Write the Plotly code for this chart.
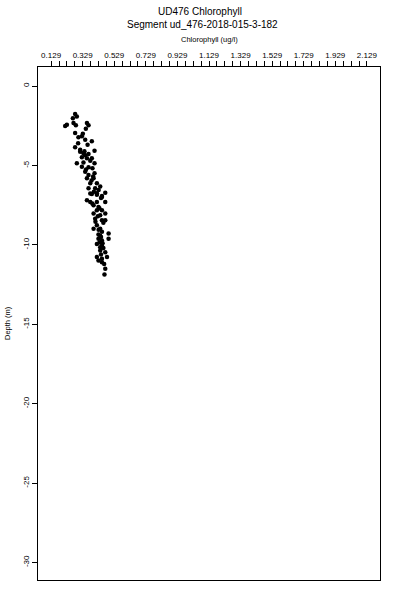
import plotly.graph_objects as go

chl = [0.281, 0.292, 0.229, 0.271, 0.286, 0.356, 0.366, 0.349, 0.281, 0.302, 0.324, 0.345, 0.387,
       0.281, 0.313, 0.340, 0.404, 0.267, 0.218,
       0.313, 0.334, 0.366, 0.324, 0.356, 0.387, 0.404, 0.292, 0.334, 0.324, 0.366, 0.391, 0.404,
       0.345, 0.366, 0.356, 0.398, 0.377, 0.419, 0.366, 0.408, 0.440, 0.472, 0.419, 0.387,
       0.377, 0.419, 0.451, 0.356, 0.377, 0.419, 0.472, 0.398, 0.429, 0.451, 0.419, 0.451, 0.398,
       0.440, 0.472, 0.408, 0.451, 0.472, 0.419, 0.440, 0.398, 0.451, 0.493, 0.429,
       0.440, 0.429, 0.451, 0.493, 0.419, 0.451, 0.440, 0.472, 0.419, 0.451, 0.483, 0.451, 0.429,
       0.472, 0.467,
       0.345, 0.377, 0.350, 0.395, 0.385, 0.430, 0.400, 0.445, 0.390, 0.435, 0.425, 0.460, 0.430,
       0.445, 0.435, 0.460, 0.445, 0.465, 0.300, 0.330, 0.360, 0.410, 0.455, 0.440]
depth = [-1.76, -1.91, -2.43, -2.33, -2.47, -2.33, -2.47, -2.69, -2.96, -3.23, -3.16, -3.38, -3.48,
         -3.86, -4.01, -4.11, -4.07, -2.03, -2.52,
         -4.13, -4.23, -4.28, -4.48, -4.55, -4.55, -4.86, -4.86, -4.82, -5.08, -5.11, -5.18, -5.49,
         -5.39, -5.60, -5.81, -5.81, -6.12, -6.12, -6.43, -6.43, -6.33, -6.71, -6.75, -6.79,
         -6.77, -6.84, -6.92, -7.19, -7.30, -7.30, -7.30, -7.50, -7.61, -6.98, -7.82, -7.82, -8.03,
         -8.13, -8.03, -8.35, -8.45, -8.45, -8.76, -8.98, -8.98, -9.18, -9.29, -9.35,
         -9.42, -9.62, -9.73, -9.62, -9.94, -10.05, -10.36, -10.46, -10.77, -10.88, -10.77, -11.09, -10.99,
         -11.51, -11.87,
         -4.35, -4.70, -5.25, -5.70, -5.95, -6.55, -6.65, -7.05, -7.40, -7.70, -8.20, -8.60, -9.05,
         -9.50, -9.85, -10.20, -10.60, -11.20, -3.60, -3.00, -3.70, -8.55, -9.90, -10.15]

x_tickvals = [round(0.129 + 0.05 * i, 3) for i in range(41)]
x_labels = ["0.129", "0.329", "0.529", "0.729", "0.929", "1.129", "1.329", "1.529", "1.729", "1.929", "2.129"]
x_ticktext = [x_labels[i // 4] if i % 4 == 0 else "" for i in range(41)]
y_tickvals = [0, -5, -10, -15, -20, -25, -30]
y_ticktext = ["0", "-5", "-10", "-15", "-20", "-25", "-30"]

FONT = "Liberation Sans, Arial, sans-serif"
ML, MR, MT, MB = 38, 20, 67, 20
W, H = 400, 600

fig = go.Figure(go.Scatter(
    x=chl, y=depth, mode="markers",
    marker=dict(color="black", size=4.5, line=dict(width=0)),
    hoverinfo="skip", showlegend=False))


def ann(text, px, py, size, angle=0):
    return dict(text=text, x=(px - ML) / (W - ML - MR), y=1 - (py - MT) / (H - MT - MB),
                xref="paper", yref="paper", xanchor="center", yanchor="middle",
                showarrow=False, textangle=angle,
                font=dict(size=size, family=FONT, color="black"))


fig.update_layout(
    template="none",
    width=W, height=H,
    margin=dict(l=ML, r=MR, t=MT, b=MB, pad=0),
    paper_bgcolor="white", plot_bgcolor="white",
    font=dict(family=FONT, color="black", size=8),
    xaxis=dict(range=[0.046, 2.212], side="top", tickmode="array",
               tickvals=x_tickvals, ticktext=x_ticktext,
               ticks="outside", ticklen=5, tickwidth=1, tickcolor="black",
               showline=True, linecolor="black", linewidth=1, mirror=True,
               showgrid=False, zeroline=False,
               tickfont=dict(size=8, family=FONT, color="black")),
    yaxis=dict(range=[-31.1, 1.2], tickmode="array",
               tickvals=y_tickvals, ticktext=y_ticktext, tickangle=-90,
               ticks="outside", ticklen=5, tickwidth=1, tickcolor="black",
               showline=True, linecolor="black", linewidth=1, mirror=True,
               showgrid=False, zeroline=False,
               tickfont=dict(size=8, family=FONT, color="black")),
    annotations=[
        ann("UD476 Chlorophyll", 200, 11, 10),
        ann("Segment ud_476-2018-015-3-182", 202, 24, 10),
        ann("Chlorophyll (ug/l)", 209, 39, 7.5),
        ann("Depth (m)", 7, 323, 7.5, -90),
    ],
)

fig.write_html("out.html", config={"displayModeBar": False, "staticPlot": True},
               post_script="document.body.style.margin='0';document.body.style.padding='0';")
